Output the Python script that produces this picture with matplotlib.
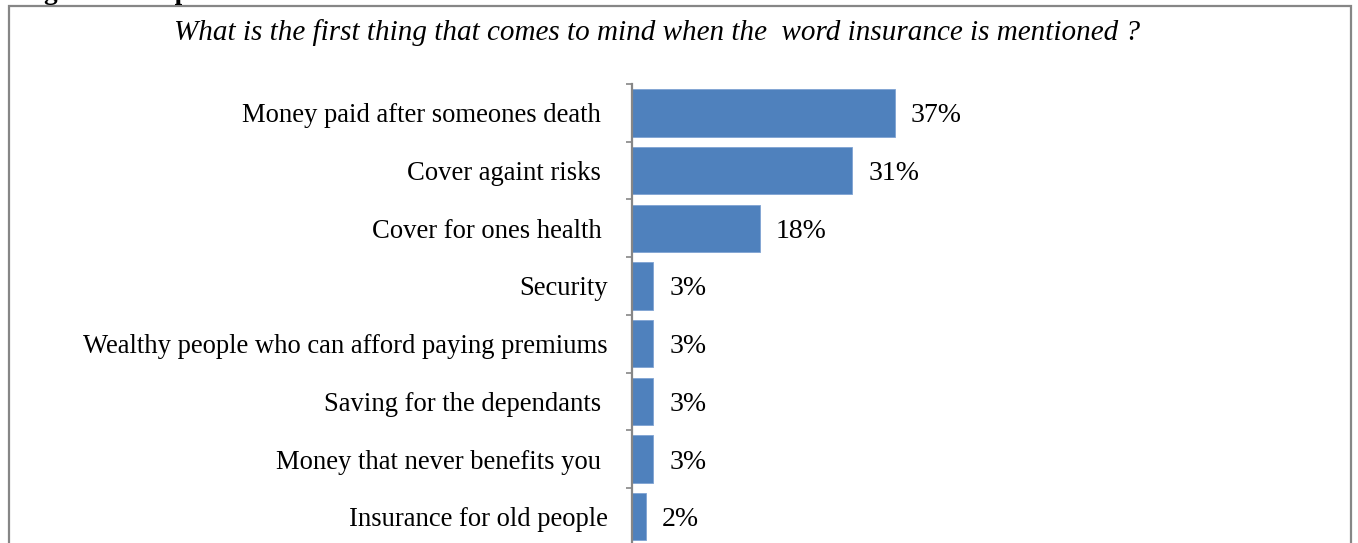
import matplotlib
matplotlib.use("Agg")
import matplotlib.pyplot as plt
from matplotlib.patches import Rectangle
import numpy as np

plt.rcParams['font.family'] = ['Liberation Serif', 'DejaVu Serif']

# survey answers, top to bottom as in the chart
answers = [
    "Money paid after someones death ",
    "Cover againt risks ",
    "Cover for ones health ",
    "Security",
    "Wealthy people who can afford paying premiums",
    "Saving for the dependants ",
    "Money that never benefits you ",
    "Insurance for old people",
]
shares = [37, 31, 18, 3, 3, 3, 3, 2]

title = "What is the first thing that comes to mind when the  word insurance is mentioned ?"
bar_color = "#4F81BD"
frame_color = "#868686"

W, H = 1358, 543
fig = plt.figure(figsize=(W / 100, H / 100), dpi=100)

# grey frame of the chart box (bottom runs off the page)
fig.patches.append(Rectangle((9 / W, -0.05), (1351 - 9) / W, 1 - 6 / H + 0.05,
                             transform=fig.transFigure, fill=False,
                             edgecolor=frame_color, linewidth=1.6, clip_on=False))

# caption from the document above, only its descenders are visible
fig.text(20 / W, 1 + 0.6 / H, "Figure 3: Response", fontsize=19.5,
         fontweight='bold', va='baseline', ha='left')

fig.text(657 / W, 1 - 32.5 / H, title, fontsize=21, style='italic',
         ha='center', va='center')

n = len(answers)
top_px, step_px = 84, 57.7
ax_left = 632 / W
ax_top = 1 - top_px / H
ax_h = n * step_px / H
ax = fig.add_axes([ax_left, ax_top - ax_h, 711 / W, ax_h])

y = np.arange(n)
bars = ax.barh(y, shares, height=0.82, color=bar_color, edgecolor="#7FA3D3",
               linewidth=0.6)
ax.set_xlim(0, 100)
ax.set_ylim(n - 0.5, -0.5)

for b, v in zip(bars, shares):
    ax.annotate(f"{v}%", (b.get_width(), b.get_y() + b.get_height() / 2),
                xytext=(11.5, 0), textcoords='offset points',
                ha='left', va='center_baseline', fontsize=20)

ax.set_yticks(y)
ax.set_yticklabels(answers, fontsize=19.2)
ax.set_yticks(np.arange(n + 1) - 0.5, minor=True)
ax.tick_params(axis='y', which='major', length=0, pad=17.3)
ax.tick_params(axis='y', which='minor', length=4.5, width=1.2, color=frame_color,
               direction='out')
ax.set_xticks([])
for s in ['top', 'right', 'bottom']:
    ax.spines[s].set_visible(False)
ax.spines['left'].set_color(frame_color)
ax.spines['left'].set_linewidth(1.6)

fig.savefig("out.png", dpi=100)
